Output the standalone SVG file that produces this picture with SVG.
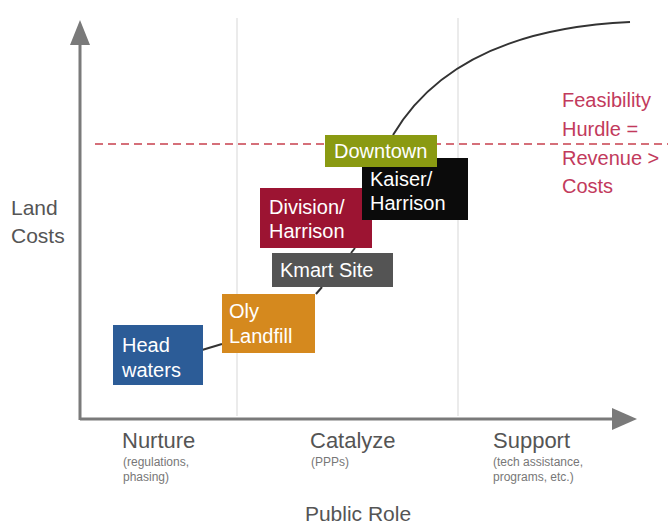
<svg xmlns="http://www.w3.org/2000/svg" width="668" height="527" viewBox="0 0 668 527">
<style>
  text { font-family: "Liberation Sans", Arial, sans-serif; }
  .box-label { fill: #ffffff; font-size: 20px; }
  .axis-label { fill: #555555; font-size: 21px; }
  .role { fill: #555555; font-size: 22px; }
  .role-note { fill: #777777; font-size: 12px; }
  .hurdle { fill: #c23a5c; font-size: 20px; }
  .grid { stroke: #ebebeb; stroke-width: 2; }
  .axis { stroke: #7a7a7a; stroke-width: 3; fill: none; }
  .link { stroke: #333333; stroke-width: 2; fill: none; }
</style>
<rect x="0" y="0" width="668" height="527" fill="#ffffff"/>

<g id="grid">
  <line class="grid" x1="237" y1="18" x2="237" y2="416"/>
  <line class="grid" x1="458" y1="18" x2="458" y2="416"/>
</g>

<g id="axes">
  <line class="axis" x1="80" y1="420" x2="80" y2="42"/>
  <polygon points="80,20 70,45 90,45" fill="#7a7a7a"/>
  <line class="axis" x1="80" y1="419" x2="614" y2="419"/>
  <polygon points="637,419 612,408 612,430" fill="#7a7a7a"/>
</g>

<g id="hurdle-line">
  <line x1="95" y1="144" x2="668" y2="144" stroke="#c8404e" stroke-width="1.5" stroke-dasharray="8,5"/>
</g>

<g id="connectors">
  <path class="link" d="M393,135 Q455,30 630,22"/>
  <line class="link" x1="202" y1="350" x2="222" y2="344"/>
  <line class="link" x1="316" y1="294" x2="322" y2="287"/>
  <line class="link" x1="351" y1="253" x2="355" y2="248"/>
</g>

<g id="node-headwaters">
  <rect x="113" y="325" width="90" height="60" fill="#2c5c97"/>
  <text class="box-label" x="122" y="352">Head</text>
  <text class="box-label" x="122" y="377">waters</text>
</g>
<g id="node-oly-landfill">
  <rect x="222" y="294" width="93" height="59" fill="#d5891e"/>
  <text class="box-label" x="229" y="318">Oly</text>
  <text class="box-label" x="229" y="343">Landfill</text>
</g>
<g id="node-kmart-site">
  <rect x="272" y="253" width="121" height="34" fill="#545454"/>
  <text class="box-label" x="280" y="277">Kmart Site</text>
</g>
<g id="node-division-harrison">
  <rect x="260" y="188" width="112" height="60" fill="#9c1432"/>
  <text class="box-label" x="269" y="214">Division/</text>
  <text class="box-label" x="269" y="238">Harrison</text>
</g>
<g id="node-kaiser-harrison">
  <rect x="362" y="158" width="106" height="62" fill="#0b0b0b"/>
  <text class="box-label" x="370" y="186">Kaiser/</text>
  <text class="box-label" x="370" y="210">Harrison</text>
</g>
<g id="node-downtown">
  <rect x="325" y="135" width="112" height="32" fill="#8a9a12"/>
  <text class="box-label" x="334" y="158">Downtown</text>
</g>

<g id="y-axis-label">
  <text class="axis-label" x="11" y="215" font-size="20">Land</text>
  <text class="axis-label" x="11" y="243" font-size="20">Costs</text>
</g>

<g id="hurdle-label">
  <text class="hurdle" x="562" y="107">Feasibility</text>
  <text class="hurdle" x="562" y="136">Hurdle =</text>
  <text class="hurdle" x="562" y="165">Revenue &gt;</text>
  <text class="hurdle" x="562" y="193">Costs</text>
</g>

<g id="role-nurture">
  <text class="role" x="122" y="448">Nurture</text>
  <text class="role-note" x="123" y="466">(regulations,</text>
  <text class="role-note" x="123" y="481">phasing)</text>
</g>
<g id="role-catalyze">
  <text class="role" x="310" y="448">Catalyze</text>
  <text class="role-note" x="311" y="466">(PPPs)</text>
</g>
<g id="role-support">
  <text class="role" x="493" y="448">Support</text>
  <text class="role-note" x="493" y="466">(tech assistance,</text>
  <text class="role-note" x="493" y="481">programs, etc.)</text>
</g>

<g id="x-axis-label">
  <text class="axis-label" x="358" y="521" text-anchor="middle">Public Role</text>
</g>
</svg>
